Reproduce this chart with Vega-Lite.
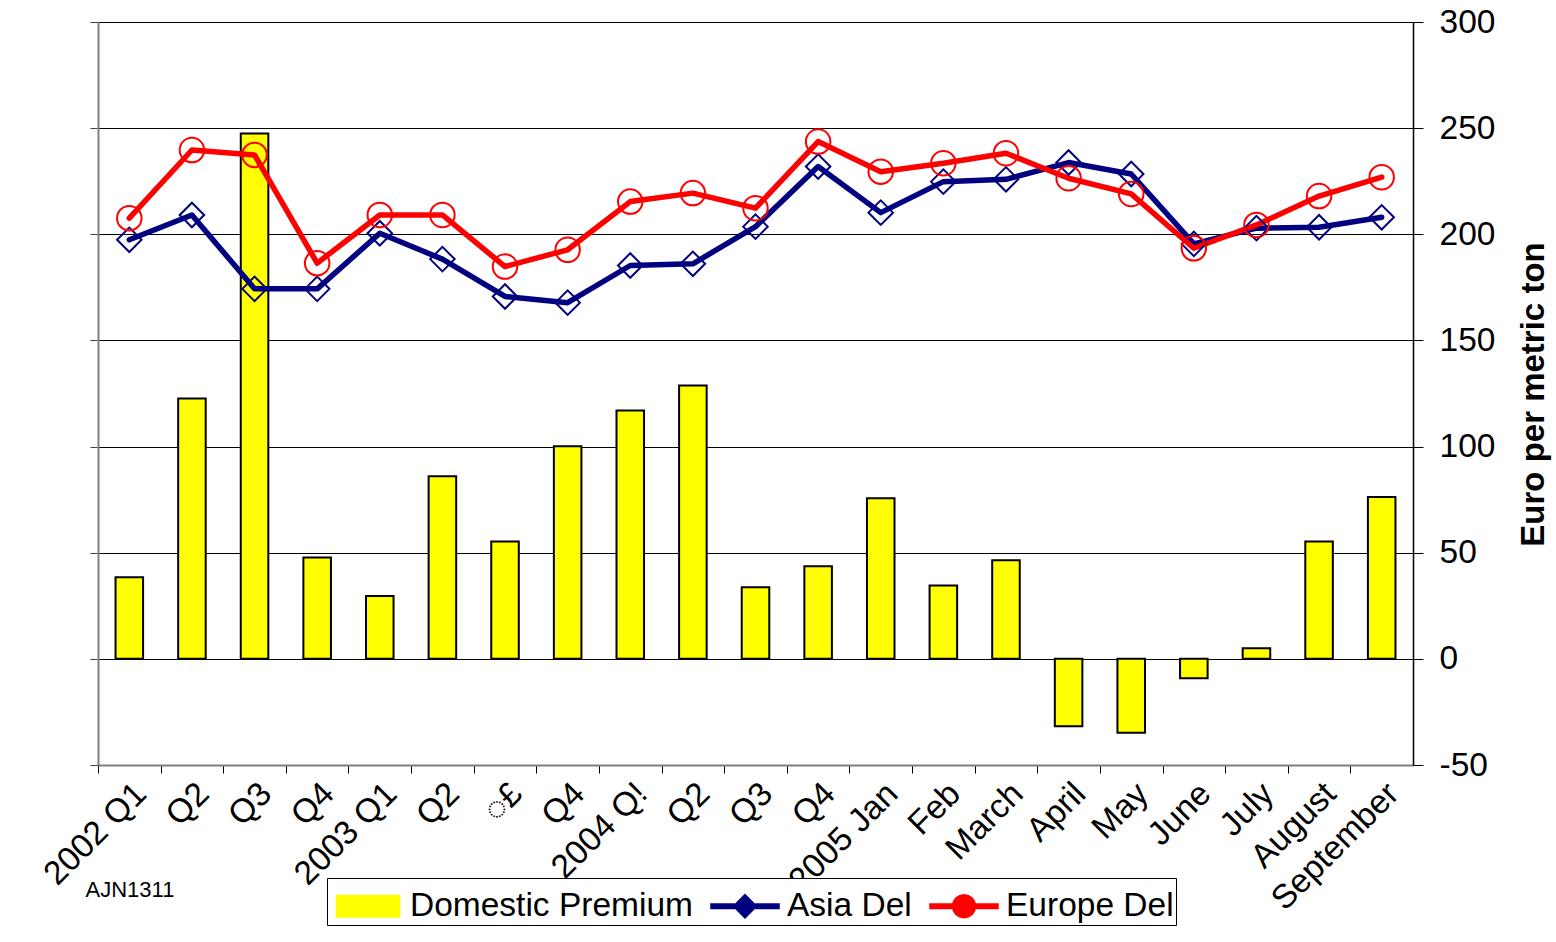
{
  "$schema": "https://vega.github.io/schema/vega-lite/v6.json",
  "width": 1315,
  "height": 743,
  "autosize": {"type": "none"},
  "padding": {"left": 98, "top": 22, "right": 143, "bottom": 177},
  "background": "white",
  "config": {
    "font": "Liberation Sans",
    "view": {"stroke": null},
    "axis": {"labelColor": "black", "titleColor": "black", "labelFont": "Liberation Sans", "titleFont": "Liberation Sans"},
    "legend": {
      "orient": "none",
      "legendX": 229,
      "legendY": 856,
      "direction": "horizontal",
      "columns": 3,
      "strokeColor": "black",
      "fillColor": "white",
      "padding": 2,
      "labelFontSize": 33.5,
      "labelFont": "Liberation Sans",
      "labelColor": "black",
      "labelLimit": 0,
      "symbolSize": 2500,
      "symbolOffset": 13,
      "labelOffset": 16,
      "columnPadding": 13,
      "symbolStrokeWidth": 2
    }
  },
  "data": {
    "values": [
      {"period": "2002 Q1", "premium": 38.5, "Asia Del": 197.4, "Europe Del": 207.6},
      {"period": "2002 Q2", "premium": 122.7, "Asia Del": 209.1, "Europe Del": 239.7},
      {"period": "2002 Q3", "premium": 247.5, "Asia Del": 174.3, "Europe Del": 237.4},
      {"period": "2002 Q4", "premium": 47.7, "Asia Del": 174.3, "Europe Del": 186.4},
      {"period": "2003 Q1", "premium": 29.6, "Asia Del": 200.5, "Europe Del": 209.1},
      {"period": "2003 Q2", "premium": 86, "Asia Del": 188.3, "Europe Del": 209.1},
      {"period": "2003 ◌£", "premium": 55.3, "Asia Del": 170.7, "Europe Del": 184.8},
      {"period": "2003 Q4", "premium": 100.1, "Asia Del": 167.8, "Europe Del": 192.7},
      {"period": "2004 Q!", "premium": 117, "Asia Del": 185.3, "Europe Del": 215.4},
      {"period": "2004 Q2", "premium": 128.8, "Asia Del": 186.1, "Europe Del": 219.4},
      {"period": "2004 Q3", "premium": 33.7, "Asia Del": 203.6, "Europe Del": 212.3},
      {"period": "2004 Q4", "premium": 43.6, "Asia Del": 231.9, "Europe Del": 243.7},
      {"period": "2005 Jan", "premium": 75.6, "Asia Del": 210.2, "Europe Del": 229.5},
      {"period": "2005 Feb", "premium": 34.6, "Asia Del": 224.8, "Europe Del": 233.5},
      {"period": "2005 March", "premium": 46.5, "Asia Del": 225.9, "Europe Del": 238.2},
      {"period": "2005 April", "premium": -31.7, "Asia Del": 233.8, "Europe Del": 226.4},
      {"period": "2005 May", "premium": -34.8, "Asia Del": 228.4, "Europe Del": 219},
      {"period": "2005 June", "premium": -9.1, "Asia Del": 195.5, "Europe Del": 193.4},
      {"period": "2005 July", "premium": 5, "Asia Del": 202.9, "Europe Del": 204.4},
      {"period": "2005 August", "premium": 55.3, "Asia Del": 203.3, "Europe Del": 218},
      {"period": "2005 September", "premium": 76.2, "Asia Del": 208, "Europe Del": 226.9}
    ]
  },
  "encoding": {
    "x": {
      "field": "period",
      "type": "nominal",
      "sort": null,
      "scale": {"paddingInner": 0.56, "paddingOuter": 0.28},
      "axis": {
        "orient": "bottom",
        "title": "AJN1311",
        "titleFontSize": 22,
        "titleFontWeight": "normal",
        "titleAnchor": "start",
        "titleAlign": "left",
        "titleBaseline": "middle",
        "titleAngle": 0,
        "titleX": -13,
        "titleY": 124,
        "labelAngle": -45,
        "labelFontSize": 33.5,
        "labelPadding": 4,
        "labelLimit": 0,
        "labelExpr": "indexof(['2002 Q1','2003 Q1','2004 Q!','2005 Jan'], datum.value) >= 0 ? datum.value : slice(datum.value, 5)",
        "tickOffset": -31.31,
        "labelOffset": 31.31,
        "domainColor": "#808080",
        "domainWidth": 2,
        "tickColor": "black",
        "tickSize": 8,
        "tickWidth": 1,
        "grid": false
      }
    }
  },
  "layer": [
    {
      "mark": {"type": "bar", "stroke": "black", "strokeWidth": 2},
      "encoding": {
        "y": {
          "field": "premium",
          "type": "quantitative",
          "scale": {"domain": [-50, 300], "nice": false, "zero": false},
          "axis": {"orient": "left", "title": null, "labels": false, "grid": false, "values": [-50, 0, 50, 100, 150, 200, 250, 300], "domainColor": "#808080", "domainWidth": 2, "tickColor": "#404040", "tickSize": 8}
        },
        "color": {
          "datum": "Domestic Premium",
          "scale": {"domain": ["Domestic Premium", "Asia Del", "Europe Del"], "range": ["#ffff00", "#000080", "#ff0000"]},
          "legend": {
            "title": null,
            "encode": {
              "symbols": {
                "update": {
                  "shape": {"signal": "datum.value === 'Domestic Premium' ? 'M-1.25,-0.42H1.25V0.42H-1.25Z' : datum.value === 'Asia Del' ? 'M-1.35,-0.08H-0.45V0.08H-1.35ZM0.45,-0.08H1.35V0.08H0.45ZM0,-0.45L0.45,0L0,0.45L-0.45,0Z' : 'M-1.35,-0.08H1.35V0.08H-1.35ZM0.45,0L0.416,0.172L0.318,0.318L0.172,0.416L0,0.45L-0.172,0.416L-0.318,0.318L-0.416,0.172L-0.45,0L-0.416,-0.172L-0.318,-0.318L-0.172,-0.416L0,-0.45L0.172,-0.416L0.318,-0.318L0.416,-0.172Z'"},
                  "fill": {"signal": "datum.value === 'Domestic Premium' ? '#ffff00' : 'transparent'"},
                  "stroke": {"signal": "datum.value === 'Domestic Premium' ? 'black' : datum.value === 'Asia Del' ? '#000080' : '#ff0000'"},
                  "strokeWidth": {"value": 2},
                  "opacity": {"value": 1}
                }
              }
            }
          }
        }
      }
    },
    {
      "transform": [{"fold": ["Asia Del", "Europe Del"], "as": ["series", "price"]}],
      "encoding": {
        "y": {
          "field": "price",
          "type": "quantitative",
          "scale": {"domain": [-50, 300], "nice": false, "zero": false},
          "axis": {
            "orient": "right",
            "title": "Euro per metric ton",
            "values": [-50, 0, 50, 100, 150, 200, 250, 300],
            "labelExpr": "'' + datum.value",
            "grid": true,
            "gridColor": "black",
            "gridWidth": 1,
            "domainColor": "black",
            "domainWidth": 1.5,
            "tickColor": "black",
            "tickSize": 10,
            "labelFontSize": 33.5,
            "labelPadding": 16,
            "titleFontSize": 33,
            "titleFontWeight": "bold",
            "titleAngle": 270,
            "titleAlign": "center",
            "titleBaseline": "middle",
            "titleX": 120,
            "titleY": 372
          }
        },
        "color": {
          "field": "series",
          "type": "nominal",
          "legend": {
            "title": null,
            "encode": {
              "symbols": {
                "update": {
                  "shape": {"signal": "datum.value === 'Domestic Premium' ? 'M-1.25,-0.42H1.25V0.42H-1.25Z' : datum.value === 'Asia Del' ? 'M-1.35,-0.08H-0.45V0.08H-1.35ZM0.45,-0.08H1.35V0.08H0.45ZM0,-0.45L0.45,0L0,0.45L-0.45,0Z' : 'M-1.35,-0.08H1.35V0.08H-1.35ZM0.45,0L0.416,0.172L0.318,0.318L0.172,0.416L0,0.45L-0.172,0.416L-0.318,0.318L-0.416,0.172L-0.45,0L-0.416,-0.172L-0.318,-0.318L-0.172,-0.416L0,-0.45L0.172,-0.416L0.318,-0.318L0.416,-0.172Z'"},
                  "fill": {"signal": "datum.value === 'Domestic Premium' ? '#ffff00' : 'transparent'"},
                  "stroke": {"signal": "datum.value === 'Domestic Premium' ? 'black' : datum.value === 'Asia Del' ? '#000080' : '#ff0000'"},
                  "strokeWidth": {"value": 2},
                  "opacity": {"value": 1}
                }
              }
            }
          }
        }
      },
      "layer": [
        {
          "mark": {"type": "line", "strokeWidth": 5.5, "strokeJoin": "round", "strokeCap": "round"}
        },
        {
          "mark": {"type": "point", "size": 600, "filled": false, "strokeWidth": 2, "opacity": 1},
          "encoding": {
            "shape": {"field": "series", "type": "nominal", "scale": {"domain": ["Asia Del", "Europe Del"], "range": ["diamond", "circle"]}, "legend": null}
          }
        }
      ]
    }
  ],
  "resolve": {"scale": {"y": "independent"}}
}
